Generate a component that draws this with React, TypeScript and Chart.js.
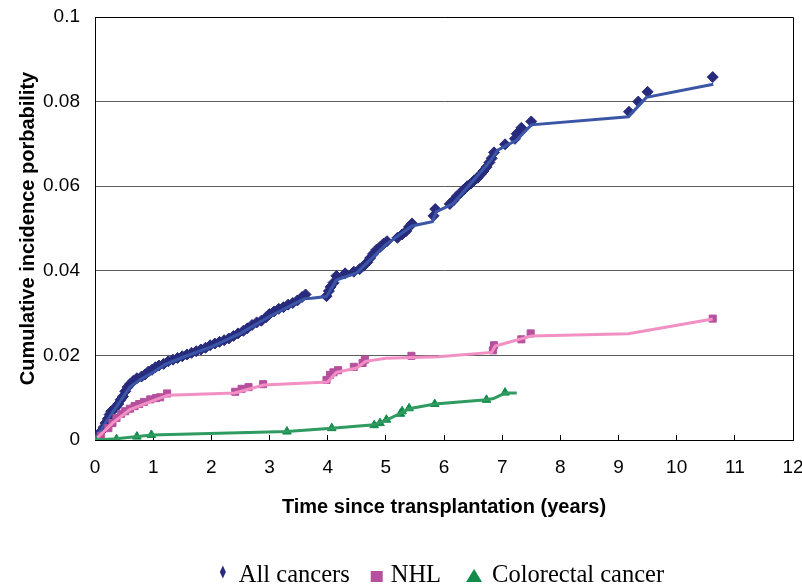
import React, { useEffect, useRef } from "react";
import { Chart, registerables } from "chart.js";

Chart.register(...registerables);

// ---- All cancers: observed cumulative incidence (years, probability)
const allCancersYears = [
  0.0, 0.05, 0.1, 0.15, 0.18, 0.22, 0.25, 0.28, 0.32, 0.36, 0.4, 0.44, 0.48, 0.52, 0.56, 0.6,
  0.66, 0.72, 0.8, 0.86, 0.92, 0.98, 1.04, 1.1, 1.18, 1.26, 1.34, 1.42, 1.5, 1.58, 1.66, 1.74,
  1.82, 1.9, 1.98, 2.06, 2.14, 2.22, 2.3, 2.38, 2.46, 2.55, 2.62, 2.7, 2.78, 2.86, 2.94, 3.0,
  3.08, 3.16, 3.24, 3.32, 3.4, 3.48, 3.56, 3.62, 3.98, 4.02, 4.05, 4.1, 4.15, 4.3, 4.45, 4.55,
  4.62, 4.68, 4.73, 4.78, 4.84, 4.9, 4.96, 5.02, 5.2, 5.28, 5.35, 5.4, 5.45, 5.82, 5.85, 6.1,
  6.16, 6.22, 6.28, 6.34, 6.4, 6.46, 6.52, 6.58, 6.63, 6.68, 6.73, 6.78, 6.82, 6.86, 7.05, 7.22,
  7.25, 7.33, 7.5, 9.18, 9.34, 9.5, 10.62,
];
const allCancersProb = [
  0.0, 0.001, 0.002, 0.003, 0.004, 0.005, 0.006, 0.0068, 0.0072, 0.0078, 0.0085, 0.0095, 0.0103,
  0.0115, 0.0125, 0.0132, 0.014, 0.0146, 0.015, 0.0155, 0.0162, 0.0166, 0.0172, 0.0176, 0.018,
  0.0186, 0.019, 0.0194, 0.0198, 0.0202, 0.0206, 0.021, 0.0214, 0.0218, 0.0224, 0.0228, 0.0232,
  0.0236, 0.024, 0.0246, 0.0252, 0.0258, 0.0264, 0.0272, 0.0278, 0.0282, 0.029, 0.0298, 0.0304,
  0.031, 0.0314, 0.032, 0.0324, 0.033, 0.0338, 0.0344, 0.034, 0.0352, 0.0362, 0.0372, 0.0388,
  0.0394, 0.0398, 0.0404, 0.0412, 0.042, 0.043, 0.044, 0.045, 0.0456, 0.0464, 0.047, 0.0478,
  0.0486, 0.0494, 0.0504, 0.0512, 0.053, 0.0546, 0.0558, 0.0566, 0.0576, 0.0584, 0.0592, 0.06,
  0.0606, 0.0614, 0.062, 0.0628, 0.0636, 0.0645, 0.0656, 0.0666, 0.068, 0.0699, 0.0712, 0.0724,
  0.0738, 0.0753, 0.0776, 0.08, 0.0823, 0.0858,
];

// ---- All cancers: fitted curve
const allCancersFitYears = [
  0, 0.2, 0.4, 0.6, 0.8, 1.0, 1.2, 1.5, 2.0, 2.5, 3.0, 3.6, 3.72, 3.98, 4.15, 4.5, 5.0, 5.45,
  5.8, 5.87, 6.15, 6.8, 6.93, 7.25, 7.5, 9.17, 9.48, 10.63,
];
const allCancersFitProb = [
  0, 0.0045, 0.0085, 0.0125, 0.0145, 0.016, 0.0178, 0.0195, 0.022, 0.0252, 0.0292, 0.0334,
  0.0335, 0.0339, 0.0378, 0.0395, 0.0462, 0.0506, 0.0516, 0.054, 0.0558, 0.066, 0.0686, 0.0709,
  0.0745, 0.0764, 0.081, 0.0841,
];

// ---- NHL: observed
const nhlYears = [
  0, 0.1, 0.23, 0.3, 0.37, 0.45, 0.52, 0.6, 0.68, 0.76, 0.84, 0.95, 1.05, 1.12, 1.24, 2.41, 2.52,
  2.64, 2.89, 3.98, 4.04, 4.1, 4.18, 4.45, 4.6, 4.64, 5.44, 6.84, 6.86, 7.33, 7.49, 10.62,
];
const nhlProb = [
  0, 0.001, 0.0028, 0.004, 0.0052, 0.0062, 0.0068, 0.0074, 0.008, 0.0085, 0.009, 0.0096, 0.0099,
  0.0101, 0.011, 0.0114, 0.0121, 0.0125, 0.0132, 0.0142, 0.0154, 0.016, 0.0165, 0.0173, 0.0182,
  0.019, 0.0199, 0.0212, 0.0224, 0.0238, 0.0252, 0.0287,
];

// ---- NHL: fitted curve
const nhlFitYears = [
  0, 0.3, 0.6, 1.0, 1.25, 2.4, 2.9, 4.0, 4.15, 4.5, 4.65, 5.0, 5.9, 6.82, 6.88, 7.5, 9.17, 10.62,
];
const nhlFitProb = [
  0, 0.004, 0.0072, 0.0093, 0.0106, 0.0111, 0.013, 0.0137, 0.016, 0.017, 0.0186, 0.0193, 0.0197,
  0.0207, 0.0222, 0.0246, 0.0251, 0.0286,
];

// ---- Colorectal cancer: observed
const crcYears = [0, 0.37, 0.72, 0.97, 3.3, 4.07, 4.8, 4.9, 5.01, 5.25, 5.28, 5.4, 5.84, 6.73, 7.05];
const crcProb = [
  0, 0.0002, 0.0008, 0.0012, 0.002, 0.0028, 0.0035, 0.004, 0.0048, 0.0062, 0.0068, 0.0075, 0.0085,
  0.0095, 0.0112,
];

// ---- Colorectal cancer: fitted curve
const crcFitYears = [0, 0.37, 0.97, 3.3, 4.07, 4.8, 5.01, 5.28, 5.4, 5.84, 6.73, 6.85, 7.05, 7.25];
const crcFitProb = [
  0, 0.0003, 0.0012, 0.002, 0.0028, 0.0036, 0.0047, 0.0065, 0.0074, 0.0085, 0.0095, 0.0098,
  0.0111, 0.0111,
];

// ---- Axes
const xTickValues = [0, 1, 2, 3, 4, 5, 6, 7, 8, 9, 10, 11, 12];
const yTickValues = [0, 0.02, 0.04, 0.06, 0.08, 0.1];
const yTickLabels = ["0", "0.02", "0.04", "0.06", "0.08", "0.1"];
const xTitle = "Time since transplantation (years)";
const yTitle = "Cumulative incidence porbability";
const seriesNames = ["All cancers", "NHL", "Colorectal cancer"];

const allPointColor = "#282b7b";
const allLineColor = "#3b56a7";
const nhlPointColor = "#b64f9d";
const nhlLineColor = "#f290c4";
const crcPointColor = "#138b4b";
const crcLineColor = "#2f9b61";

const sansFamily = "'Liberation Sans', Arial, sans-serif";
const serifFamily = "'Liberation Serif', 'Times New Roman', serif";

const toXY = (xs: number[], ys: number[]) => xs.map((x, i) => ({ x, y: ys[i] }));

// Closes the plot box with a top and right edge.
const framePlugin = {
  id: "plotFrame",
  beforeDatasetsDraw(chart: any) {
    const { ctx, chartArea } = chart;
    ctx.save();
    ctx.strokeStyle = "#000";
    ctx.lineWidth = 1;
    ctx.beginPath();
    ctx.moveTo(Math.round(chartArea.left) + 0.5, Math.round(chartArea.top) + 0.5);
    ctx.lineTo(Math.round(chartArea.right) + 0.5, Math.round(chartArea.top) + 0.5);
    ctx.lineTo(Math.round(chartArea.right) + 0.5, Math.round(chartArea.bottom) + 0.5);
    ctx.stroke();
    ctx.restore();
  },
};

// Legend row under the axis title, showing only the marker series.
const legendPlugin = {
  id: "markerLegend",
  afterDraw(chart: any) {
    const { ctx, chartArea } = chart;
    const colors = [allPointColor, nhlPointColor, crcPointColor];
    const markerW = [6, 12, 16];
    const afterMarker = [13, 8, 10];
    const afterText = [21, 25, 0];
    ctx.save();
    ctx.font = `24.5px ${serifFamily}`;
    ctx.textBaseline = "alphabetic";
    const textW = seriesNames.map((s) => ctx.measureText(s).width);
    let total = 0;
    for (let i = 0; i < 3; i++) total += markerW[i] + afterMarker[i] + textW[i] + afterText[i];
    const baseline = 582;
    let x = (chartArea.left + chartArea.right) / 2 - 2 - total / 2;
    for (let i = 0; i < 3; i++) {
      ctx.fillStyle = colors[i];
      ctx.beginPath();
      if (i === 0) {
        const cx = x + markerW[0] / 2;
        const cy = baseline - 10;
        ctx.moveTo(cx, cy - 6.5);
        ctx.lineTo(cx + 3, cy);
        ctx.lineTo(cx, cy + 6.5);
        ctx.lineTo(cx - 3, cy);
      } else if (i === 1) {
        ctx.rect(x, baseline - 11, 12, 11);
      } else {
        ctx.moveTo(x, baseline);
        ctx.lineTo(x + 16, baseline);
        ctx.lineTo(x + 8, baseline - 13);
      }
      ctx.closePath();
      ctx.fill();
      x += markerW[i] + afterMarker[i];
      ctx.fillStyle = "#000";
      ctx.fillText(seriesNames[i], x, baseline);
      x += textW[i] + afterText[i];
    }
    ctx.restore();
  },
};

export default function App() {
  const canvasRef = useRef<HTMLCanvasElement>(null);

  useEffect(() => {
    if (!canvasRef.current) return;
    const tickFont = { family: sansFamily, size: 19 };
    const titleFont = { family: sansFamily, size: 20, weight: "bold" as const };

    const chart = new Chart(canvasRef.current, {
      type: "scatter",
      data: {
        datasets: [
          {
            label: "Colorectal cancer fit",
            data: toXY(crcFitYears, crcFitProb),
            showLine: true,
            borderColor: crcLineColor,
            borderWidth: 3,
            pointRadius: 0,
            tension: 0,
            order: 0,
          },
          {
            label: seriesNames[2],
            data: toXY(crcYears, crcProb),
            pointStyle: "triangle",
            pointRadius: 5,
            backgroundColor: crcPointColor,
            borderColor: crcPointColor,
            borderWidth: 1,
            order: 1,
          },
          {
            label: "NHL fit",
            data: toXY(nhlFitYears, nhlFitProb),
            showLine: true,
            borderColor: nhlLineColor,
            borderWidth: 3,
            pointRadius: 0,
            tension: 0,
            order: 2,
          },
          {
            label: seriesNames[1],
            data: toXY(nhlYears, nhlProb),
            pointStyle: "rect",
            pointRadius: 5,
            backgroundColor: nhlPointColor,
            borderColor: nhlPointColor,
            borderWidth: 1,
            order: 3,
          },
          {
            label: "All cancers fit",
            data: toXY(allCancersFitYears, allCancersFitProb),
            showLine: true,
            borderColor: allLineColor,
            borderWidth: 3,
            pointRadius: 0,
            tension: 0,
            order: 4,
          },
          {
            label: seriesNames[0],
            data: toXY(allCancersYears, allCancersProb),
            pointStyle: "rectRot",
            pointRadius: 5.5,
            backgroundColor: allPointColor,
            borderColor: allPointColor,
            borderWidth: 1,
            order: 5,
          },
        ],
      },
      options: {
        animation: false,
        responsive: false,
        devicePixelRatio: 1,
        layout: { padding: { top: 17, right: 9, left: 0, bottom: 0 } },
        plugins: {
          legend: { display: false },
          tooltip: { enabled: false },
        },
        scales: {
          x: {
            type: "linear",
            min: 0,
            max: 12,
            afterBuildTicks: (scale: any) => {
              scale.ticks = xTickValues.map((value) => ({ value }));
            },
            ticks: {
              font: tickFont,
              color: "#000",
              padding: 21,
              maxRotation: 0,
              callback: (v: any) => String(v),
            },
            grid: {
              drawOnChartArea: false,
              tickLength: -5,
              tickColor: "#000",
              color: "#000",
            },
            border: { color: "#000", width: 1 },
            title: {
              display: true,
              text: xTitle,
              font: titleFont,
              color: "#000",
              padding: { top: 0, bottom: 69 },
            },
            afterFit: (scale: any) => {
              scale.height = 148;
              scale.paddingLeft = 0;
              scale.paddingRight = 0;
            },
          },
          y: {
            type: "linear",
            min: 0,
            max: 0.1,
            afterBuildTicks: (scale: any) => {
              scale.ticks = yTickValues.map((value) => ({ value }));
            },
            ticks: {
              font: tickFont,
              color: "#000",
              padding: 15,
              callback: (_v: any, i: number) => yTickLabels[i],
            },
            grid: {
              color: "#5c5c5c",
              lineWidth: 1,
              drawTicks: false,
            },
            border: { color: "#000", width: 1 },
            title: {
              display: true,
              text: yTitle,
              font: titleFont,
              color: "#000",
              padding: { top: 16, bottom: 0 },
            },
            afterFit: (scale: any) => {
              scale.width = 95;
              scale.paddingTop = 0;
              scale.paddingBottom = 0;
            },
          },
        },
      },
      plugins: [framePlugin, legendPlugin],
    });

    return () => chart.destroy();
  }, []);

  return (
    <div
      style={{
        position: "absolute",
        left: 0,
        top: 0,
        width: 802,
        height: 588,
        background: "#fff",
      }}
    >
      <canvas ref={canvasRef} width={802} height={588} style={{ display: "block" }} />
    </div>
  );
}
